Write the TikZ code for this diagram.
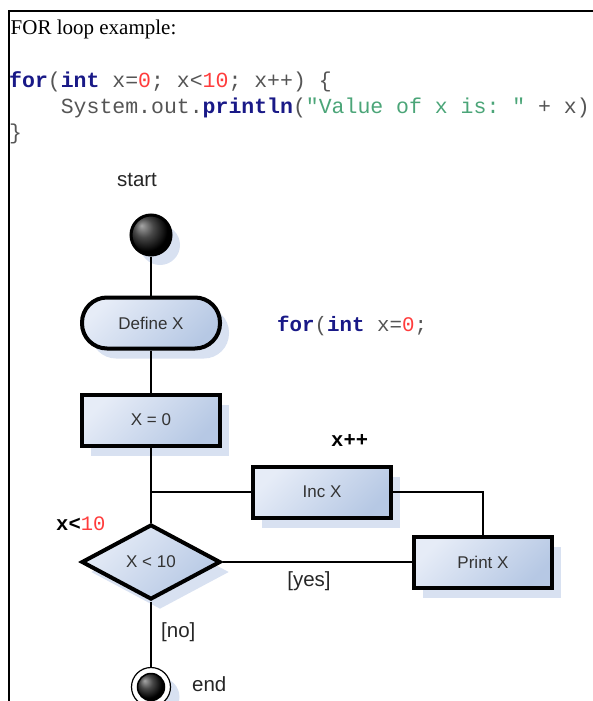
\documentclass[tikz,border=0pt]{standalone}
\usepackage{fontspec}
\setmainfont{Liberation Serif}
\setsansfont{Liberation Sans}
\setmonofont{Liberation Mono}
\usetikzlibrary{shapes.geometric}
\usetikzlibrary{shadows}
\definecolor{kwblue}{RGB}{25,25,135}
\definecolor{codegray}{RGB}{85,85,85}
\definecolor{numred}{RGB}{255,60,60}
\definecolor{strgreen}{RGB}{75,165,120}
\definecolor{boxlight}{RGB}{230,236,247}
\definecolor{boxdark}{RGB}{182,200,228}
\definecolor{shadowblue}{RGB}{216,225,241}
\newcommand{\kw}[1]{\textbf{\textcolor{kwblue}{#1}}}
\newcommand{\cnum}[1]{\textcolor{numred}{#1}}
\newcommand{\cstr}[1]{\textcolor{strgreen}{#1}}
\pgfdeclareradialshading{blackball}{\pgfpoint{-12bp}{12bp}}{color(0bp)=(black!35); color(12bp)=(black!72); color(26bp)=(black); color(50bp)=(black)}

\begin{document}
\begin{tikzpicture}[x=1pt, y=-1pt,
    shade/.style={drop shadow={shadow xshift=9pt, shadow yshift=-10pt, fill=shadowblue, opacity=1}},
    flow/.style={draw, line width=4pt, top color=boxlight, bottom color=boxdark, shading angle=45,
      text=black!80, font=\sffamily\fontsize{17}{20}\selectfont, inner sep=0pt, shade},
    act/.style={flow, rectangle, minimum width=138pt, minimum height=51pt},
    test/.style={flow, diamond, minimum width=139pt, minimum height=75pt},
    wire/.style={line width=2pt},
    lbl/.style={inner sep=0pt, text=black!85, font=\sffamily\fontsize{20.5}{24}\selectfont},
    code/.style={inner sep=0pt, anchor=base west, text=codegray, font=\ttfamily\fontsize{21.5}{26}\selectfont}]
  \useasboundingbox (0,0) rectangle (593,701);
  \draw[line width=2pt] (8.5,701) -- (8.5,11) -- (600,11);
  \node[anchor=base west, inner sep=0pt, font=\fontsize{21}{24}\selectfont] (title) at (10.5,35) {FOR loop example:};
  \node[code] (line1) at (9,87) {\kw{for}(\kw{int} x=\cnum{0}; x<\cnum{10}; x++) \{};
  \node[code] (line2) at (9,113) {\hphantom{xxxx}System.out.\kw{println}(\cstr{"Value of x is: "} + x);};
  \node[code] (line3) at (9,139) {\}};

  \node[lbl, anchor=base] (startlbl) at (137,186) {start};
  \node[circle, draw, line width=3pt, minimum size=40pt, inner sep=0pt, shading=blackball, shade] (start) at (151,235) {};
  \node[act, rounded corners=25pt] (define) at (151,323) {Define X};
  \node[code, font=\ttfamily\fontsize{20.8}{24}\selectfont] (initcode) at (277,331) {\kw{for}(\kw{int} x=\cnum{0};};
  \node[act] (xzero) at (151,420) {X = 0};
  \node[code, text=black, font=\ttfamily\bfseries\fontsize{20.5}{24}\selectfont] (inclbl) at (331,446) {x++};
  \node[act] (incx) at (322,492) {Inc X};
  \node[code, text=black, font=\ttfamily\fontsize{20.5}{24}\selectfont] (condlbl) at (56,530) {\textbf{x<}\cnum{10}};
  \node[test] (cond) at (151,562) {X < 10};
  \node[act] (printx) at (483,562) {Print X};
  \node[lbl, anchor=base] (yeslbl) at (309,586) {[yes]};
  \node[lbl, anchor=base west] (nolbl) at (161,637) {[no]};
  \node[circle, draw, line width=1.2pt, fill=white, minimum size=39pt, inner sep=0pt, shade] (stop) at (151,687) {};
  \node[circle, draw, line width=1.5pt, minimum size=27pt, inner sep=0pt, shading=blackball] (stopball) at (stop) {};
  \node[lbl, anchor=base west] (endlbl) at (192,691) {end};

  \coordinate (junc) at (151,492);
  \draw[wire] (start) -- (define);
  \draw[wire] (define) -- (xzero);
  \draw[wire] (xzero) -- (cond);
  \draw[wire] (junc) -- (incx);
  \draw[wire] (incx) -| (printx);
  \draw[wire] (cond) -- (printx);
  \draw[wire] (cond) -- (stop);
\end{tikzpicture}
\end{document}
